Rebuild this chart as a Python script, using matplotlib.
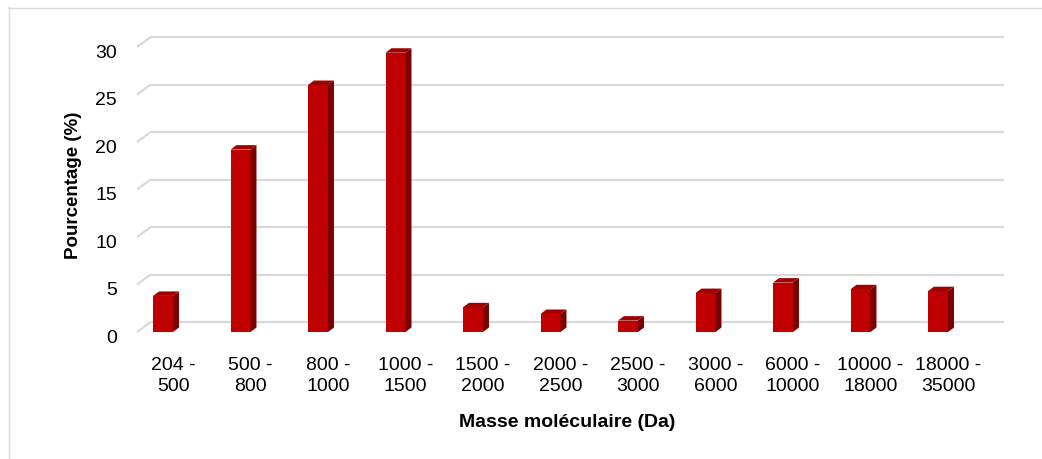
import matplotlib
matplotlib.use("Agg")
import matplotlib.pyplot as plt
from matplotlib.patches import Polygon
from matplotlib.lines import Line2D

plt.rcParams['font.family'] = ['Liberation Sans', 'DejaVu Sans']

# ---- data ----
categories = ["204 -\n500", "500 -\n800", "800 -\n1000", "1000 -\n1500", "1500 -\n2000",
              "2000 -\n2500", "2500 -\n3000", "3000 -\n6000", "6000 -\n10000",
              "10000 -\n18000", "18000 -\n35000"]
values = [3.8, 19.2, 26.0, 29.4, 2.6, 1.9, 1.2, 4.1, 5.2, 4.5, 4.3]
yticks = [0, 5, 10, 15, 20, 25, 30]
xlabel = "Masse moléculaire (Da)"
ylabel = "Pourcentage (%)"

# ---- style / projection ----
W, H = 1042, 460
front = "#c00000"
side = "#7a0000"
top = "#a00000"
grid_c = "#d9d9d9"
bar_w = 0.258          # front face width (category units)
bdx, bdy = 0.077, 0.47  # bar depth offset
wdx, wdy = 0.168, 1.0   # back-wall offset

fig = plt.figure(figsize=(W / 100, H / 100), dpi=100)
# axes placed in pixels: x 130..1010, y 20..340
ax = fig.add_axes([130 / W, (H - 340) / H, 880 / W, 320 / H])
ax.set_xlim(-0.426, 10.929)
ax.set_ylim(-0.737, 32.947)
ax.axis("off")

# gridlines on back wall with floor/side diagonal
x_front_left = -0.335
x_right = 10.85
for v in yticks:
    ax.add_line(Line2D([x_front_left, x_front_left + wdx], [v, v + wdy],
                       color=grid_c, lw=1.6, zorder=1, solid_capstyle="butt"))
    ax.add_line(Line2D([x_front_left + wdx, x_right], [v + wdy, v + wdy],
                       color=grid_c, lw=1.6, zorder=1, solid_capstyle="butt"))
    ax.text(-0.594, v - 0.53, str(v), ha="right", va="center", fontsize=14,
            color="#000000", clip_on=False)

# 3D-looking bars
for i, v in enumerate(values):
    xl = i - bar_w / 2
    xr = i + bar_w / 2
    ax.bar(i, v, width=bar_w, bottom=0, color=front, edgecolor="none", zorder=3)
    ax.add_patch(Polygon([(xr, 0), (xr + bdx, bdy), (xr + bdx, v + bdy), (xr, v)],
                         closed=True, facecolor=side, edgecolor="none", zorder=3))
    ax.add_patch(Polygon([(xl, v), (xr, v), (xr + bdx, v + bdy), (xl + bdx, v + bdy)],
                         closed=True, facecolor=top, edgecolor="none", zorder=3))
    ax.text(i + 0.13, -4.53, categories[i], ha="center", va="center", fontsize=14,
            linespacing=1.35, clip_on=False)

ax.text(5.22, -9.37, xlabel, ha="center", va="center", fontsize=14,
        fontweight="bold", clip_on=False)
ax.text(-1.161, 15.58, ylabel, ha="center", va="center", fontsize=13.5,
        fontweight="bold", rotation=90, clip_on=False)

# chart border
fig.add_artist(Line2D([8.5 / W, 8.5 / W], [0, 1 - 8 / H], transform=fig.transFigure,
                      color=grid_c, lw=1))
fig.add_artist(Line2D([8 / W, 1], [1 - 8.5 / H, 1 - 8.5 / H], transform=fig.transFigure,
                      color=grid_c, lw=1))

fig.savefig("out.png", dpi=100)
